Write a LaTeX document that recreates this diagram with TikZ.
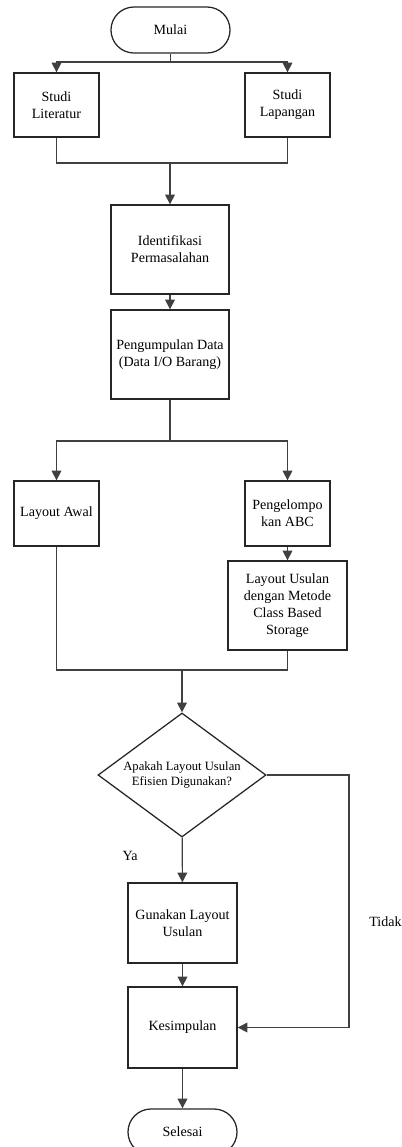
\documentclass[tikz,border=0pt]{standalone}
\usepackage{fontspec}
\setmainfont{Liberation Serif}
\usetikzlibrary{positioning}
\usetikzlibrary{arrows.meta}
\usetikzlibrary{shapes.geometric}
\usetikzlibrary{math}

\tikzset{
  teks/.style={font=\fontsize{10}{12}\selectfont, align=center},
  proses/.style={teks, draw=black!85, line width=0.9pt, rectangle, inner sep=1pt},
  terminal/.style={teks, draw=black!85, line width=0.9pt, rectangle,
    rounded corners=0.575cm, minimum height=1.15cm},
  keputusan/.style={draw=black!85, line width=0.9pt, diamond, inner sep=0pt,
    minimum width=4.2cm, minimum height=3.1cm},
  panah/.style={draw=black!75, line width=0.8pt, -{Triangle[width=7pt,length=7pt]}},
  garis/.style={draw=black!75, line width=0.8pt},
}

\begin{document}
\begin{tikzpicture}[x=0.025cm,y=-0.025cm]

  \tikzmath{
    \kecilw = 2.125; % width of the small boxes
    \kecilh = 1.6;   % height of the small boxes
    \besarw = 2.95;  % width of the upper big boxes
    \besarh = 2.225; % height of the upper big boxes
    \bawahw = 2.725; % width of the lower column
  }

  \useasboundingbox (0,0) rectangle (402,1147);
  \clip (0,0) rectangle (402,1147);

  % start and first two studies
  \node[terminal, minimum width=2.975cm] (mulai) at (170.5,30) {Mulai};
  \node[proses, minimum width=\kecilw cm, minimum height=\kecilh cm] (literatur)
    at (56.5,105) {Studi\\Literatur};
  \node[proses, minimum width=\kecilw cm, minimum height=\kecilh cm] (lapangan)
    at (287.5,105) {Studi\\Lapangan};

  % middle column
  \node[proses, minimum width=\besarw cm, minimum height=\besarh cm] (identifikasi)
    at (170,249.5) {Identifikasi\\Permasalahan};
  \node[proses, minimum width=\besarw cm, minimum height=\besarh cm] (pengumpulan)
    at (170,354.5) {Pengumpulan Data\\(Data I/O Barang)};

  % layouts
  \node[proses, minimum width=\kecilw cm, minimum height=1.625cm] (awal)
    at (56.5,513.5) {Layout Awal};
  \node[proses, minimum width=\kecilw cm, minimum height=1.625cm] (abc)
    at (287.5,513.5) {Pengelompo\\kan ABC};
  \node[proses, minimum width=2.975cm, minimum height=\besarh cm] (usulan)
    at (287.5,605.5) {Layout Usulan\\dengan Metode\\Class Based\\Storage};

  % decision and end
  \node[keputusan, label={[teks, font=\fontsize{9}{11}\selectfont]center:Apakah Layout Usulan\\Efisien Digunakan?}]
    (efisien) at (182,775) {};
  \node[proses, minimum width=\bawahw cm, minimum height=2cm] (gunakan)
    at (182.5,923) {Gunakan Layout\\Usulan};
  \node[proses, minimum width=\bawahw cm, minimum height=2.025cm] (kesimpulan)
    at (182.5,1027.5) {Kesimpulan};
  \node[terminal, minimum width=\bawahw cm] (selesai) at (182.5,1132) {Selesai};

  \node[teks] (ya) at (130,856) {Ya};
  \node[teks, anchor=west, inner sep=0pt] (tidak) at (369,922) {Tidak};

  % branch and merge points
  \coordinate (cabang1) at (170.5,62);
  \coordinate (gabung1) at (170,163);
  \coordinate (cabang2) at (170,441);
  \coordinate (gabung2) at (182,670);
  \coordinate (belok)   at (349,775);

  % connectors
  \draw[garis] (mulai) -- (cabang1);
  \draw[panah] (cabang1) -| (literatur);
  \draw[panah] (cabang1) -| (lapangan);
  \draw[garis] (literatur) |- (gabung1);
  \draw[garis] (lapangan) |- (gabung1);
  \draw[panah] (gabung1) -- (identifikasi);
  \draw[panah] (identifikasi) -- (pengumpulan);

  \draw[garis] (pengumpulan) -- (cabang2);
  \draw[panah] (cabang2) -| (awal);
  \draw[panah] (cabang2) -| (abc);
  \draw[panah] (abc) -- (usulan);
  \draw[garis] (awal) |- (gabung2);
  \draw[garis] (usulan) |- (gabung2);
  \draw[panah] (gabung2) -- (efisien);

  \draw[panah] (efisien) -- (gunakan);
  \draw[panah] (gunakan) -- (kesimpulan);
  \draw[panah] (efisien.east) -- (belok) |- (kesimpulan);
  \draw[panah] (kesimpulan) -- (selesai);

\end{tikzpicture}
\end{document}
